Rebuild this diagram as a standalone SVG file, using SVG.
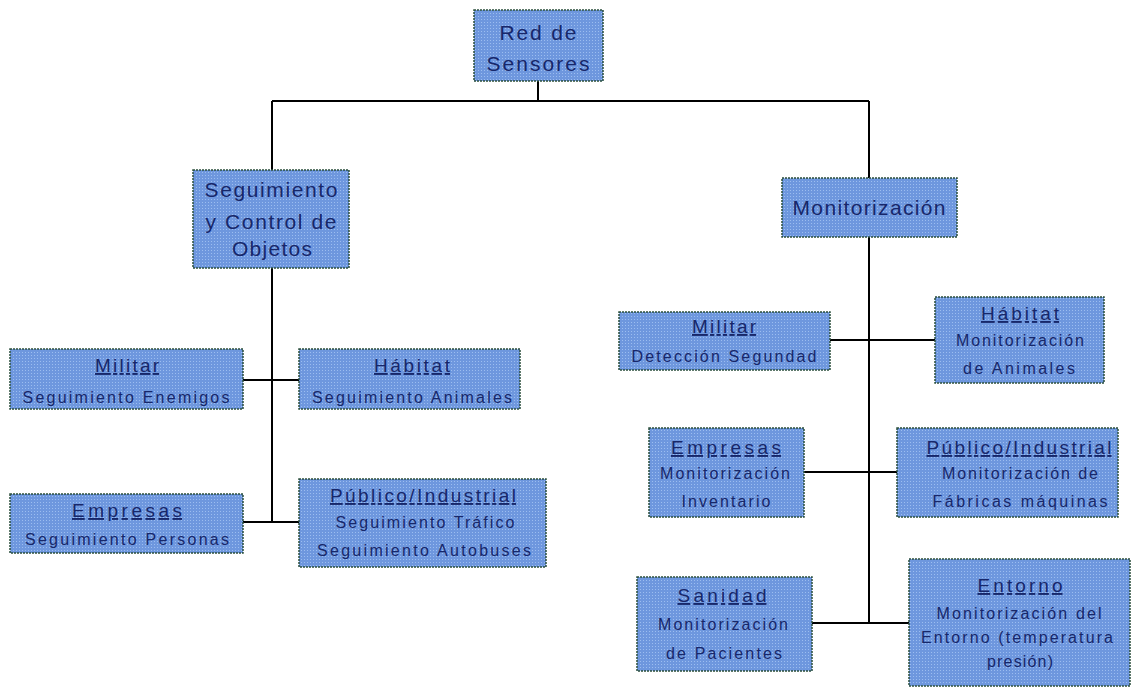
<svg xmlns="http://www.w3.org/2000/svg" width="1135" height="687" viewBox="0 0 1135 687">
<defs>
<pattern id="dots" x="0" y="0" width="3" height="3" patternUnits="userSpaceOnUse">
<rect width="3" height="3" fill="#6e97de"/>
<rect x="1" y="1" width="1" height="1" fill="#9cbdf0"/>
</pattern>
</defs>
<style>
.box{fill:url(#dots);stroke:#2b4f3c;stroke-width:1.5;stroke-dasharray:2 1}
.t{font-family:"Liberation Sans","DejaVu Sans",sans-serif;fill:#17276a;text-anchor:middle}
.big{font-size:21px}
.ttl{font-size:19px;text-decoration:underline}
.sub{font-size:16px}
.c{stroke:#000;stroke-width:2;fill:none}
</style>
<rect width="1135" height="687" fill="#fff"/>
<g id="connectors">
<path class="c" d="M538 81V101M272 101H869M272 101V170M869 101V178"/>
<path class="c" d="M272 268V522M243 380H299M243 522H299"/>
<path class="c" d="M869 237V623M830 340H935M804 472H897M812 623H909"/>
</g>
<g id="root">
<rect class="box" x="474" y="10" width="129" height="71"/>
<text class="t big" x="538" y="40" textLength="77" lengthAdjust="spacing">Red de</text>
<text class="t big" x="538" y="71" textLength="103" lengthAdjust="spacing">Sensores</text>
</g>
<g id="seguimiento">
<rect class="box" x="193" y="170" width="156" height="98"/>
<text class="t big" x="271" y="197" textLength="133" lengthAdjust="spacing">Seguimiento</text>
<text class="t big" x="271" y="229" textLength="131" lengthAdjust="spacing">y Control de</text>
<text class="t big" x="272" y="256" textLength="80" lengthAdjust="spacing">Objetos</text>
</g>
<g id="monitorizacion">
<rect class="box" x="782" y="178" width="175" height="59"/>
<text class="t big" x="869" y="215" textLength="153" lengthAdjust="spacing">Monitorización</text>
</g>
<g id="s-militar">
<rect class="box" x="10" y="349" width="233" height="60"/>
<text class="t ttl" x="127" y="372" textLength="64" lengthAdjust="spacing">Militar</text>
<text class="t sub" x="126" y="403" textLength="207" lengthAdjust="spacing">Seguimiento Enemigos</text>
</g>
<g id="s-habitat">
<rect class="box" x="299" y="349" width="221" height="60"/>
<text class="t ttl" x="412" y="372" textLength="76" lengthAdjust="spacing">Hábitat</text>
<text class="t sub" x="412" y="403" textLength="200" lengthAdjust="spacing">Seguimiento Animales</text>
</g>
<g id="s-empresas">
<rect class="box" x="10" y="494" width="233" height="59"/>
<text class="t ttl" x="127" y="517" textLength="110" lengthAdjust="spacing">Empresas</text>
<text class="t sub" x="127" y="545" textLength="204" lengthAdjust="spacing">Seguimiento Personas</text>
</g>
<g id="s-publico">
<rect class="box" x="299" y="479" width="247" height="88"/>
<text class="t ttl" x="423" y="502" textLength="186" lengthAdjust="spacing">Público/Industrial</text>
<text class="t sub" x="425" y="528" textLength="179" lengthAdjust="spacing">Seguimiento Tráfico</text>
<text class="t sub" x="424" y="556" textLength="214" lengthAdjust="spacing">Seguimiento Autobuses</text>
</g>
<g id="m-militar">
<rect class="box" x="619" y="312" width="211" height="58"/>
<text class="t ttl" x="724" y="333" textLength="64" lengthAdjust="spacing">Militar</text>
<text class="t sub" x="724" y="362" textLength="185" lengthAdjust="spacing">Detección Segundad</text>
</g>
<g id="m-habitat">
<rect class="box" x="935" y="297" width="169" height="86"/>
<text class="t ttl" x="1020" y="320" textLength="78" lengthAdjust="spacing">Hábitat</text>
<text class="t sub" x="1020" y="346" textLength="128" lengthAdjust="spacing">Monitorización</text>
<text class="t sub" x="1019" y="374" textLength="112" lengthAdjust="spacing">de Animales</text>
</g>
<g id="m-empresas">
<rect class="box" x="649" y="428" width="155" height="89"/>
<text class="t ttl" x="726" y="454" textLength="110" lengthAdjust="spacing">Empresas</text>
<text class="t sub" x="725" y="479" textLength="130" lengthAdjust="spacing">Monitorización</text>
<text class="t sub" x="726" y="507" textLength="89" lengthAdjust="spacing">Inventario</text>
</g>
<g id="m-publico">
<rect class="box" x="897" y="428" width="221" height="89"/>
<text class="t ttl" x="1019" y="454" textLength="185" lengthAdjust="spacing">Público/Industrial</text>
<text class="t sub" x="1020" y="479" textLength="156" lengthAdjust="spacing">Monitorización de</text>
<text class="t sub" x="1020" y="507" textLength="175" lengthAdjust="spacing">Fábricas máquinas</text>
</g>
<g id="m-sanidad">
<rect class="box" x="637" y="577" width="175" height="94"/>
<text class="t ttl" x="722" y="602" textLength="89" lengthAdjust="spacing">Sanidad</text>
<text class="t sub" x="723" y="630" textLength="130" lengthAdjust="spacing">Monitorización</text>
<text class="t sub" x="724" y="659" textLength="116" lengthAdjust="spacing">de Pacientes</text>
</g>
<g id="m-entorno">
<rect class="box" x="909" y="559" width="221" height="127"/>
<text class="t ttl" x="1020" y="592" textLength="85" lengthAdjust="spacing">Entorno</text>
<text class="t sub" x="1019" y="619" textLength="165" lengthAdjust="spacing">Monitorización del</text>
<text class="t sub" x="1017" y="643" textLength="192" lengthAdjust="spacing">Entorno (temperatura</text>
<text class="t sub" x="1020" y="667" textLength="66" lengthAdjust="spacing">presión)</text>
</g>
</svg>
